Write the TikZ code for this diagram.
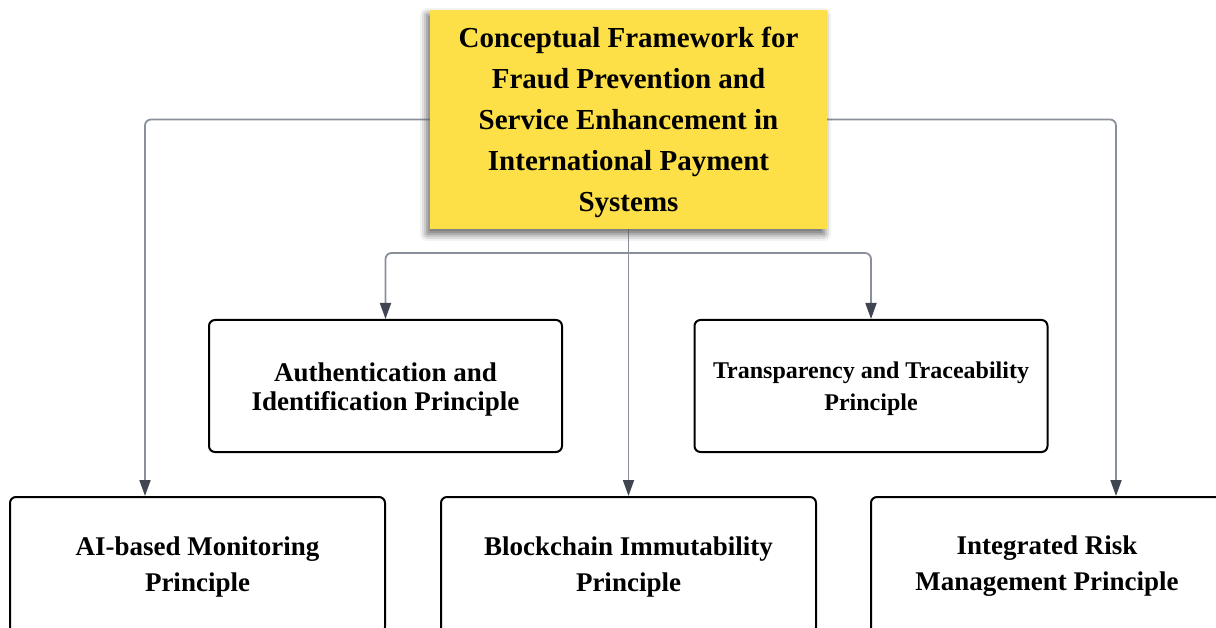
\documentclass[tikz,border=0pt]{standalone}
\usepackage{fontspec}
\setmainfont{Liberation Serif}
\usetikzlibrary{arrows.meta,shadows.blur}
\definecolor{titlefill}{HTML}{FDE047}
\definecolor{linkgray}{HTML}{8A9099}
\definecolor{tipgray}{HTML}{3F4652}
% raise the first line of a block so the block sits a little lower
\newcommand\leadstrut[1]{\rule{0pt}{\dimexpr0.7em+#1\relax}}
\begin{document}
\begin{tikzpicture}[x=1pt,y=-1pt,
  box/.style={draw=black, line width=2pt, rounded corners=6pt, align=center,
    inner sep=0pt, fill=white},
  titlebox/.style={fill=titlefill, align=center, inner sep=0pt,
    minimum width=397pt, minimum height=219pt,
    font=\bfseries\fontsize{29}{41}\selectfont,
    blur shadow={shadow xshift=-3pt, shadow yshift=-5pt,
      shadow blur radius=7pt, shadow opacity=35}},
  midbox/.style={box, minimum width=353pt, minimum height=132pt},
  lowbox/.style={box, minimum width=375pt, minimum height=136pt,
    font=\bfseries\fontsize{27}{36}\selectfont},
  link/.style={draw=linkgray, line width=1.8pt, rounded corners=6pt,
    -{Triangle[length=16pt,width=11pt,color=tipgray]}}]
\useasboundingbox (0,0) rectangle (1216,628);
\clip (0,0) rectangle (1216,628);

% central framework box
\node[titlebox] (t) at (628.5,119.5)
  {\leadstrut{5pt}Conceptual Framework for\\Fraud Prevention and\\Service Enhancement in\\International Payment\\Systems};

% second row principles
\node[midbox, font=\bfseries\fontsize{27}{29}\selectfont] (auth) at (385.5,386)
  {\leadstrut{6pt}Authentication and\\Identification Principle};
\node[midbox, font=\bfseries\fontsize{24}{32}\selectfont] (trans) at (871,386)
  {\leadstrut{5pt}Transparency and Traceability\\Principle};

% bottom row principles
\node[lowbox] (ai) at (197.5,565) {\leadstrut{3pt}AI-based Monitoring\\Principle};
\node[lowbox] (bc) at (628.5,565) {\leadstrut{3pt}Blockchain Immutability\\Principle};
\node[lowbox, minimum width=352pt] (irm) at (1047,565) {\leadstrut{3pt}Integrated Risk\\Management Principle};

% arrow entry points on the outer boxes
\coordinate (aiin) at ([xshift=-52.5pt]ai.north);
\coordinate (irmin) at ([xshift=69pt]irm.north);
\coordinate (br) at (t.south |- 0,253);

% connectors
\draw[link] (t.west) -| (aiin);
\draw[link] (t.east) -| (irmin);
\draw[link] (t.south) -- (bc.north);
\draw[link] (br) -| (auth.north);
\draw[link] (br) -| (trans.north);

% redraw the framework box above its outgoing lines
\node[titlebox] at (t) {\leadstrut{5pt}Conceptual Framework for\\Fraud Prevention and\\Service Enhancement in\\International Payment\\Systems};
\end{tikzpicture}
\end{document}
